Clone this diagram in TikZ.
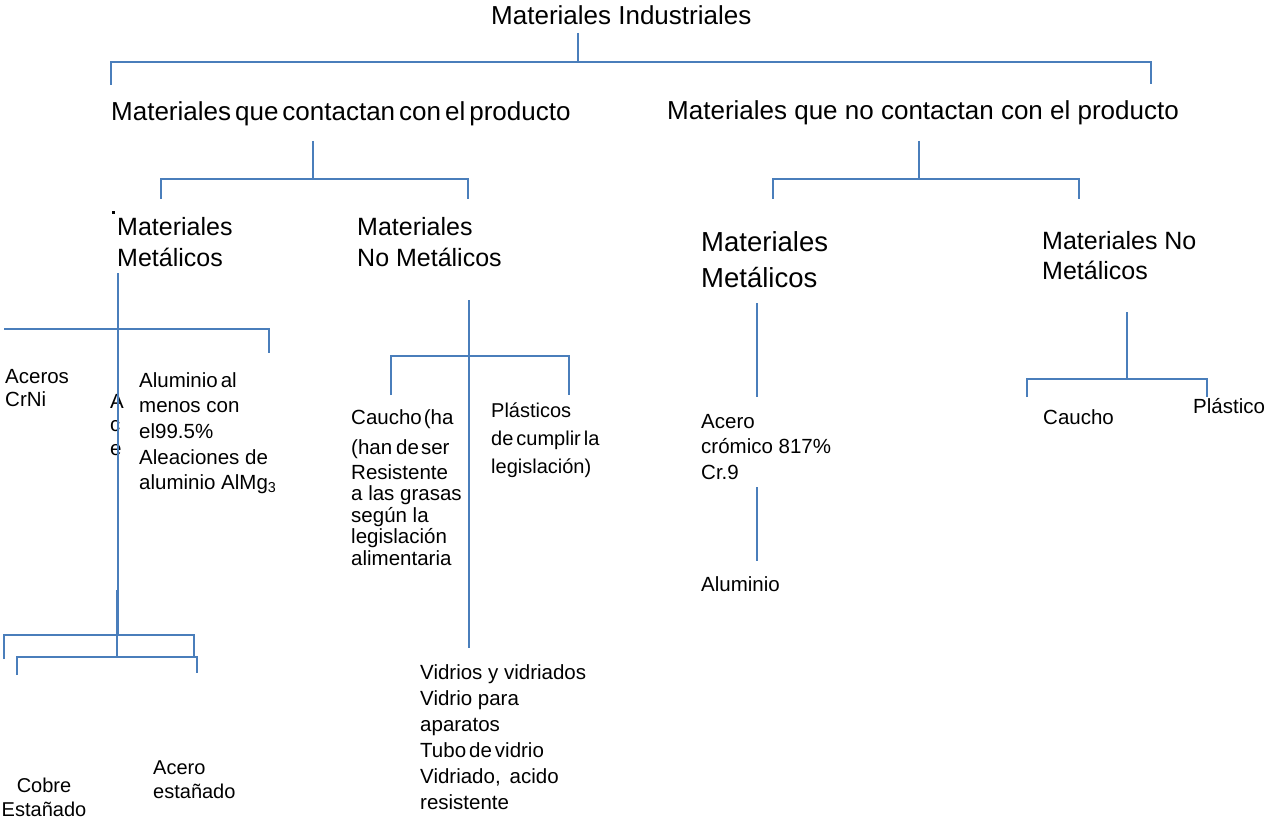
\documentclass[tikz,border=0pt]{standalone}
\usepackage{fontspec}
\setmainfont{Liberation Sans}
\definecolor{linkblue}{HTML}{4A7EBB}
\begin{document}
\begin{tikzpicture}[x=1pt,y=-1pt,
		bracket/.style={draw=linkblue,line width=2pt},
		txt/.style={anchor=north west,inner sep=0pt,align=left},
		headtext/.style={txt,font=\fontsize{26}{31}\selectfont},
		subtext/.style={txt,font=\fontsize{25}{31}\selectfont},
		leaftext/.style={txt,font=\fontsize{20.5}{25.7}\selectfont}]

			\useasboundingbox (0,0) rectangle (1268,821);

			\node[headtext] (root) at (491,5) {Materiales Industriales};
			\node[headtext] (contact) at (111,101) {Materiales\hspace{4pt}que\hspace{4pt}contactan\hspace{4pt}con\hspace{4pt}el\hspace{4pt}producto};
			\node[headtext] (nocontact) at (667,100) {Materiales que no contactan con el producto};

			\node[subtext] (cmet) at (117,217) {Materiales\\Metálicos};
			\node[subtext] (cnomet) at (357,217) {Materiales\\No Metálicos};
			\node[subtext,font=\fontsize{27.5}{36}\selectfont] (nmet) at (701,231) {Materiales\\Metálicos};
			\node[subtext,font=\fontsize{25}{30}\selectfont] (nnomet) at (1042,231) {Materiales No\\Metálicos};
			\fill (112,211) rectangle (115,214);

			\node[leaftext,font=\fontsize{20.5}{23.5}\selectfont] (crni) at (5,369) {Aceros\\CrNi};
			\node[leaftext,font=\fontsize{20.5}{23.5}\selectfont] (ace) at (110,394) {A\\c\\e};
			\node[leaftext] (alu) at (139,372) {Aluminio\hspace{3pt}al\\menos con\\el99.5\%\\Aleaciones de\\aluminio AlMg\textsubscript{3}};
			\node[leaftext,font=\fontsize{20.5}{21.5}\selectfont] (caucho) at (351,409) {Caucho\hspace{2pt}(ha\\[8.5pt](han\hspace{4pt}de\hspace{2pt}ser\\[3.5pt]Resistente\\a las grasas\\según la\\legislación\\alimentaria};
			\node[leaftext,font=\fontsize{20}{28}\selectfont] (plast) at (491,403) {Plásticos\\de\hspace{3pt}cumplir\hspace{3pt}la\\legislación)};
			\node[leaftext,font=\fontsize{20.5}{26}\selectfont] (vidrio) at (420,664) {Vidrios y vidriados\\Vidrio para\\aparatos\\Tubo\hspace{3pt}de\hspace{3pt}vidrio\\Vidriado,\hspace{9pt}acido\\resistente};
			\node[leaftext,font=\fontsize{20.5}{25.5}\selectfont] (cromo) at (701,414) {Acero\\crómico 817\%\\Cr.9};
			\node[leaftext] (alum) at (701,576) {Aluminio};
			\node[leaftext] (caucho2) at (1043,409) {Caucho};
			\node[leaftext] (plast2) at (1193,398) {Plástico};
			\node[leaftext,anchor=north,align=center,font=\fontsize{20}{24}\selectfont] (cobre) at (44,778) {Cobre\\Estañado};
			\node[leaftext,font=\fontsize{20}{23.5}\selectfont] (estan) at (153,761) {Acero\\estañado};

			\coordinate (t-top) at (578,33);
			\coordinate (t-bar) at (578,62);
			\coordinate (t-l) at (111,62);
			\coordinate (t-le) at (111,85);
			\coordinate (t-r) at (1151,62);
			\coordinate (t-re) at (1151,84);

			\draw[bracket] (t-top) -- (t-bar);
			\draw[bracket] (t-le) -- (t-l) -- (t-r) -- (t-re);

			\coordinate (c-top) at (313,141);
			\coordinate (c-bar) at (313,179);
			\coordinate (c-l) at (161,179);
			\coordinate (c-le) at (161,199);
			\coordinate (c-r) at (468,179);
			\coordinate (c-re) at (468,199);

			\draw[bracket] (c-top) -- (c-bar);
			\draw[bracket] (c-le) -- (c-l) -- (c-r) -- (c-re);

			\coordinate (n-top) at (919,141);
			\coordinate (n-bar) at (919,179);
			\coordinate (n-l) at (773,179);
			\coordinate (n-le) at (773,199);
			\coordinate (n-r) at (1079,179);
			\coordinate (n-re) at (1079,199);

			\draw[bracket] (n-top) -- (n-bar);
			\draw[bracket] (n-le) -- (n-l) -- (n-r) -- (n-re);

			\coordinate (cm-top) at (118,273);
			\coordinate (cm-bar) at (118,329);
			\coordinate (cm-l) at (4,329);
			\coordinate (cm-r) at (269,329);
			\coordinate (cm-re) at (269,353);
			\coordinate (cm-bot) at (118,635);
			\coordinate (cm-l2) at (4,635);
			\coordinate (cm-l2e) at (4,659);
			\coordinate (cm-r2) at (194,635);
			\coordinate (cm-r2e) at (194,658);
			\coordinate (cm-top3) at (117,590);
			\coordinate (cm-bar3) at (117,657);
			\coordinate (cm-l3) at (17,657);
			\coordinate (cm-l3e) at (17,675);
			\coordinate (cm-r3) at (197,657);
			\coordinate (cm-r3e) at (197,673);

			\draw[bracket] (cm-top) -- (cm-bot);
			\draw[bracket] (cm-l) -- (cm-r) -- (cm-re);
			\draw[bracket] (cm-l2e) -- (cm-l2) -- (cm-r2) -- (cm-r2e);
			\draw[bracket] (cm-top3) -- (cm-bar3);
			\draw[bracket] (cm-l3e) -- (cm-l3) -- (cm-r3) -- (cm-r3e);

			\coordinate (cn-top) at (469,300);
			\coordinate (cn-bot) at (469,648);
			\coordinate (cn-l) at (391,356);
			\coordinate (cn-le) at (391,395);
			\coordinate (cn-r) at (569,356);
			\coordinate (cn-re) at (569,395);

			\draw[bracket] (cn-top) -- (cn-bot);
			\draw[bracket] (cn-le) -- (cn-l) -- (cn-r) -- (cn-re);

			\coordinate (nm-a) at (757,303);
			\coordinate (nm-b) at (757,397);
			\coordinate (nm-c) at (757,487);
			\coordinate (nm-d) at (757,561);

			\draw[bracket] (nm-a) -- (nm-b);
			\draw[bracket] (nm-c) -- (nm-d);

			\coordinate (nn-top) at (1127,312);
			\coordinate (nn-bar) at (1127,379);
			\coordinate (nn-l) at (1027,379);
			\coordinate (nn-le) at (1027,397);
			\coordinate (nn-r) at (1207,379);
			\coordinate (nn-re) at (1207,397);

			\draw[bracket] (nn-top) -- (nn-bar);
			\draw[bracket] (nn-le) -- (nn-l) -- (nn-r) -- (nn-re);

		\end{tikzpicture}
\end{document}
